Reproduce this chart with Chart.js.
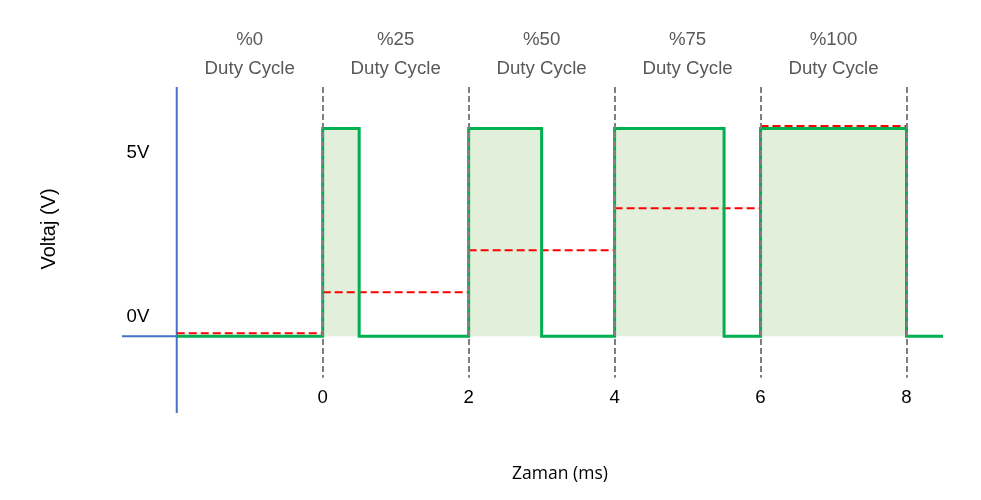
<!DOCTYPE html>
<html>
<head>
<meta charset="utf-8">
<script src="https://cdn.jsdelivr.net/npm/chart.js@4"></script>
<style>
  body { margin: 0; background: #fff; }
  #wrap { width: 981px; height: 500px; }
</style>
</head>
<body>
<div id="wrap"><canvas id="chart1"></canvas></div>
<script>
// PWM sinyali (zaman ms, seviye V) - her nokta bir geçiş
var signalTimes  = [-2, 0, 0.5, 2, 3, 4, 5.5, 6, 8, 8.5];
var signalLevels = [ 0, 5, 0,   5, 0, 5, 0,   5, 0, 0];

// duty cycle bölümleri ve ortalama voltaj
var dutyLabels   = ['%0', '%25', '%50', '%75', '%100'];
var dutyStarts   = [-2, 0, 2, 4, 6];
var dutyEnds     = [0, 2, 4, 6, 8];
var dutyAverages = [0.07, 1.06, 2.07, 3.08, 5.06];

var xTicks = [0, 2, 4, 6, 8];
var yTicks = [0, 5];
var yTickLabels = ['0V', '5V'];

var signalData = signalTimes.map(function(t, i) { return { x: t, y: signalLevels[i] }; });

var avgData = [];
dutyStarts.forEach(function(s, i) {
  avgData.push({ x: s, y: dutyAverages[i] });
  avgData.push({ x: dutyEnds[i], y: dutyAverages[i] });
  avgData.push({ x: dutyEnds[i], y: null });
});

var arial = '"Liberation Sans", Arial, sans-serif';

// eksenler, kesikli çizgiler ve yazılar
var decor = {
  id: 'decor',
  beforeDatasetsDraw: function(chart) {
    var ctx = chart.ctx, a = chart.chartArea;
    var xs = chart.scales.x, ys = chart.scales.y;
    var x0 = xs.getPixelForValue(-2);
    ctx.save();
    ctx.strokeStyle = '#4472C4';
    ctx.lineWidth = 2;
    ctx.beginPath();
    ctx.moveTo(a.left, ys.getPixelForValue(0));
    ctx.lineTo(x0, ys.getPixelForValue(0));
    ctx.moveTo(x0, a.top);
    ctx.lineTo(x0, a.bottom);
    ctx.stroke();
    ctx.restore();
  },
  afterDatasetsDraw: function(chart) {
    var ctx = chart.ctx, a = chart.chartArea;
    var xs = chart.scales.x, ys = chart.scales.y;
    ctx.save();
    // bölüm sınırları
    ctx.strokeStyle = '#7F7F7F';
    ctx.lineWidth = 2;
    ctx.setLineDash([6, 3]);
    xTicks.forEach(function(t) {
      var px = Math.round(xs.getPixelForValue(t));
      ctx.beginPath();
      ctx.moveTo(px, a.top);
      ctx.lineTo(px, ys.getPixelForValue(-1));
      ctx.stroke();
    });
    ctx.setLineDash([]);

    ctx.textAlign = 'center';
    ctx.textBaseline = 'middle';
    ctx.fillStyle = '#000';
    ctx.font = '18.67px ' + arial;
    xTicks.forEach(function(t) {
      ctx.fillText(String(t), xs.getPixelForValue(t), 397.5);
    });
    yTicks.forEach(function(v, i) {
      var off = v > 0 ? 24 : -19.5;
      ctx.fillText(yTickLabels[i], 138, ys.getPixelForValue(v) + off);
    });

    ctx.fillStyle = '#595959';
    dutyLabels.forEach(function(l, i) {
      var px = xs.getPixelForValue((dutyStarts[i] + dutyEnds[i]) / 2);
      ctx.fillText(l, px, 40);
      ctx.fillText('Duty Cycle', px, 69);
    });

    // eksen başlıkları
    ctx.fillStyle = '#000';
    ctx.font = '17.5px "Open Sans", sans-serif';
    ctx.fillText('Zaman (ms)', 560, 474);
    ctx.font = '20px ' + arial;
    ctx.translate(49, 229);
    ctx.rotate(-Math.PI / 2);
    ctx.fillText('Voltaj (V)', 0, 0);
    ctx.restore();
  }
};

var ctx = document.getElementById('chart1').getContext('2d');
var chart = new Chart(ctx, {
  type: 'line',
  data: {
    datasets: [{
      data: signalData,
      stepped: true,
      borderColor: '#00B050',
      borderWidth: 3,
      backgroundColor: '#E2EFDA',
      fill: 'origin',
      pointRadius: 0,
      borderJoinStyle: 'miter'
    }, {
      data: avgData,
      borderColor: '#FF0000',
      borderWidth: 2,
      borderDash: [8, 4],
      fill: false,
      pointRadius: 0,
      spanGaps: false
    }]
  },
  plugins: [decor],
  options: {
    responsive: true,
    maintainAspectRatio: false,
    animation: false,
    layout: { padding: { left: 122, right: 38, top: 87, bottom: 87 } },
    scales: {
      x: { type: 'linear', min: -2.75, max: 8.5, display: false },
      y: { min: -1.85, max: 6, display: false }
    },
    plugins: {
      legend: { display: false },
      tooltip: { enabled: false },
      filler: { drawTime: 'beforeDatasetsDraw' }
    }
  }
});
</script>
</body>
</html>
